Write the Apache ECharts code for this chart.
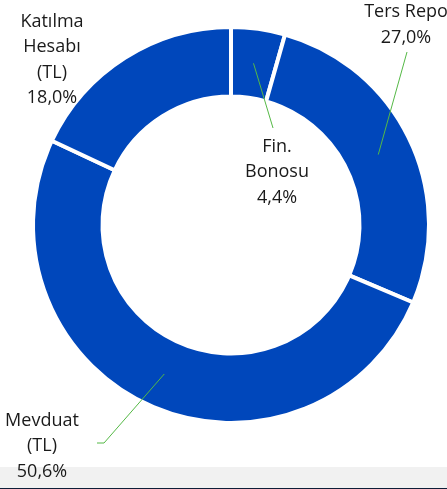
<!DOCTYPE html>
<html>
<head>
<meta charset="utf-8">
<script src="https://cdn.jsdelivr.net/npm/echarts@6/dist/echarts.min.js"></script>
<style>
  html, body { margin: 0; padding: 0; background: #fff; }
  #chart { width: 447px; height: 489px; }
</style>
</head>
<body>
<div id="chart"></div>
<script>
// slices, clockwise from 12 o'clock
const categories = ['Fin.\nBonosu', 'Ters Repo', 'Mevduat\n(TL)', 'Katılma\nHesabı\n(TL)']
const shares = [4.4, 27.0, 50.6, 18.0]

// where each label block sits, and where its leader line stops
const labelPos = [[277, 172], [406, 25], [42, 446], [52, 60]]
const leaderEnds = [[[273, 128]], [[407, 52]], [[104, 443], [97, 443]], null]

const cx = 231
const cy = 225
const rInner = 128.5
const rOuter = 198
const startAngle = 90

const total = shares.reduce((a, b) => a + b, 0)
const fmt = v => v.toFixed(1).replace('.', ',') + '%'

function midAngle (idx) {
  let cum = 0
  for (let i = 0; i < idx; i++) cum += shares[i]
  return startAngle - (cum + shares[idx] / 2) / total * 360
}

const pieData = categories.map((name, i) => ({
  name: name,
  value: shares[i],
  labelLine: { show: leaderEnds[i] !== null }
}))

const chart = echarts.init(document.getElementById('chart'))
chart.setOption({
  animation: false,
  backgroundColor: '#fff',
  graphic: [
    { type: 'rect', left: 0, top: 467, shape: { width: 447, height: 21 }, style: { fill: '#f1f1f1' }, z: -10 },
    { type: 'rect', left: 0, top: 488, shape: { width: 447, height: 1 }, style: { fill: '#0e1e38' }, z: -10 }
  ],
  series: [
    {
      // the ring itself
      type: 'pie',
      z: 2,
      center: [cx, cy],
      radius: [rInner, rOuter],
      startAngle: startAngle,
      clockwise: true,
      silent: true,
      itemStyle: {
        color: '#0047bb',
        borderColor: '#fff',
        borderWidth: 4
      },
      label: { show: false },
      labelLine: { show: false },
      data: pieData
    },
    {
      // same slices, invisible, only to carry labels + leader lines above the ring
      type: 'pie',
      z: 5,
      center: [cx, cy],
      radius: [rInner, rOuter],
      startAngle: startAngle,
      clockwise: true,
      silent: true,
      avoidLabelOverlap: false,
      itemStyle: { color: 'rgba(0,0,0,0)', borderWidth: 0 },
      label: {
        show: true,
        position: 'outside',
        width: 130,
        overflow: 'none',
        fontFamily: 'Open Sans',
        fontSize: 18,
        lineHeight: 25.5,
        color: '#1a1a1a',
        formatter: p => p.name + '\n' + fmt(p.value)
      },
      labelLine: {
        show: true,
        lineStyle: { color: '#55b946', width: 1 }
      },
      labelLayout: params => {
        const i = params.dataIndex
        const out = {
          x: labelPos[i][0],
          y: labelPos[i][1],
          align: 'center',
          verticalAlign: 'middle'
        }
        if (leaderEnds[i]) {
          const a = midAngle(i) * Math.PI / 180
          const rm = (rInner + rOuter) / 2
          const start = [cx + rm * Math.cos(a), cy - rm * Math.sin(a)]
          const pts = [start].concat(leaderEnds[i])
          if (pts.length < 3) pts.push(pts[1])
          out.labelLinePoints = pts
        }
        return out
      },
      data: pieData
    }
  ]
})
</script>
</body>
</html>
